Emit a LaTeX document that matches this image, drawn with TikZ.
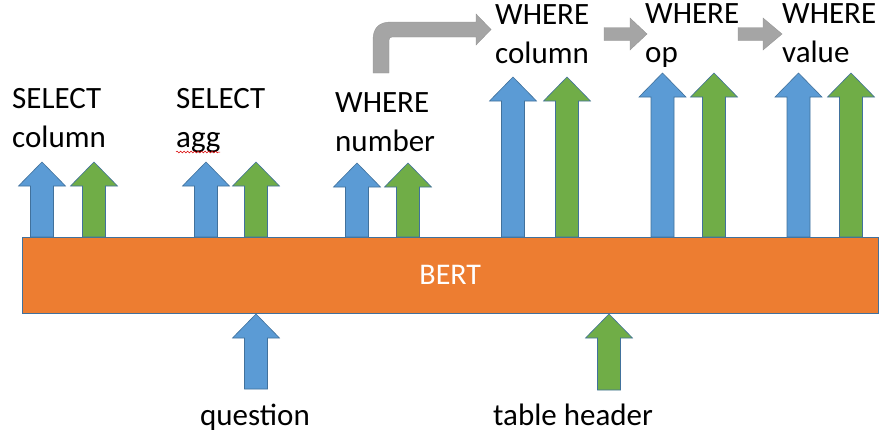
\documentclass[tikz,border=0pt]{standalone}
\usepackage{fontspec}
\setmainfont{Carlito}
\usetikzlibrary{decorations.pathmorphing}
\definecolor{bblue}{HTML}{5B9BD5}
\definecolor{bgreen}{HTML}{70AD47}
\definecolor{borange}{HTML}{ED7D31}
\definecolor{bgray}{HTML}{A5A5A5}
\definecolor{outl}{HTML}{41719C}
\tikzset{
  lbl/.style={anchor=base west, inner sep=0pt, align=left, font=\fontsize{31}{39}\selectfont, text=black},
  blk/.style={line width=0.6pt, draw=outl},
  grayarr/.style={fill=bgray, draw=bgray!90!black, line width=0.4pt},
}
% #1 colour, #2 centre x, #3 tip y, #4 bottom y
\newcommand\blockup[4]{%
  \filldraw[blk, fill=#1] ({#2-11.5},{#4}) -- ({#2-11.5},{#3+24}) -- ({#2-23.5},{#3+24}) -- ({#2},{#3})
    -- ({#2+23.5},{#3+24}) -- ({#2+11.5},{#3+24}) -- ({#2+11.5},{#4}) -- cycle;}
% #1 left x of shaft, #2 head base x, #3 tip x, #4 centre y
\newcommand\blockright[4]{%
  \filldraw[grayarr] ({#1},{#4-6.5}) -- ({#2},{#4-6.5}) -- ({#2},{#4-16}) -- ({#3},{#4})
    -- ({#2},{#4+16}) -- ({#2},{#4+6.5}) -- ({#1},{#4+6.5}) -- cycle;}
\begin{document}
\begin{tikzpicture}[x=1pt,y=-1pt]
\useasboundingbox (0,0) rectangle (881,439);
% BERT block
\node[draw=outl, line width=0.6pt, fill=borange, minimum width=855.5pt, minimum height=76pt, inner sep=0pt,
      text=white, font=\fontsize{30}{36}\selectfont] (bert) at (450.25,275) {BERT};
% output arrows
\blockup{bblue}{42}{162}{237}
\blockup{bgreen}{94}{162}{237}
\blockup{bblue}{206}{162}{237}
\blockup{bgreen}{256}{162}{237}
\blockup{bblue}{357}{163}{237}
\blockup{bgreen}{408}{163}{237}
\blockup{bblue}{513}{77}{237}
\blockup{bgreen}{567}{77}{237}
\blockup{bblue}{662.5}{73}{237}
\blockup{bgreen}{714}{73}{237}
\blockup{bblue}{798.5}{73}{237}
\blockup{bgreen}{851}{73}{237}
% input arrows
\blockup{bblue}{256}{314}{389}
\blockup{bgreen}{609}{314}{390}
% labels (anchor = baseline of the last line)
\node[lbl] (selcol) at (12,147) {SELECT\\column};
\node[lbl] (selagg) at (176,147) {SELECT\\agg};
\node[lbl] (wnum) at (335,151) {WHERE\\number};
\node[lbl] (wcol) at (495,63) {WHERE\\column};
\node[lbl] (wop) at (645,62) {WHERE\\op};
\node[lbl] (wval) at (782,62) {WHERE\\value};
\node[lbl, anchor=base] (quest) at (255,425) {question};
\node[lbl] (thead) at (493,425) {table header};
% spell-check squiggle under agg
\draw[red!85!black, line width=0.5pt, decorate, decoration={snake, amplitude=0.9pt, segment length=3.5pt}] (176,152) -- (220,152);
% bent gray arrow
\filldraw[grayarr] (373,73) -- (373,40) .. controls (373,28) and (379,22) .. (391,22) -- (476,22) -- (476,14)
  -- (491,29.5) -- (476,45) -- (476,37) -- (392,37) .. controls (390,37) and (389,38) .. (389,40) -- (389,73) -- cycle;
% small gray arrows
\blockright{604}{630}{647}{34}
\blockright{738}{763}{782}{34}
\end{tikzpicture}
\end{document}
